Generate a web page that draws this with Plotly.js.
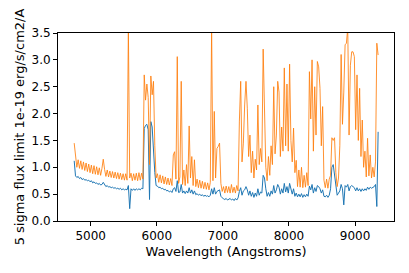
<!DOCTYPE html>
<html>
<head>
<meta charset="utf-8">
<script src="https://cdn.plot.ly/plotly-3.0.1.min.js"></script>
<style>html,body{margin:0;padding:0;background:#fff;}#chart{width:409px;height:273px;}</style>
</head>
<body>
<div id="chart"></div>
<script>
const wavelength = [
4750,4770,4790,4810,4830,4850,4870,4890,4910,4930,
4950,4970,4990,5010,5030,5050,5070,5090,5110,5130,
5150,5170,5190,5210,5230,5250,5270,5290,5310,5330,
5350,5370,5390,5410,5430,5450,5470,5490,5510,5530,
5550,5570,5590,5610,5630,5650,5670,5690,5710,5730,
5750,5770,5790,5810,5830,5850,5870,5890,5910,5930,
5950,5970,5990,6010,6030,6050,6070,6090,6110,6130,
6150,6170,6190,6210,6230,6250,6270,6290,6310,6330,
6350,6370,6390,6410,6430,6450,6470,6490,6510,6530,
6550,6570,6590,6610,6630,6650,6670,6690,6710,6730,
6750,6770,6790,6810,6830,6850,6870,6890,6910,6930,
6950,6970,6990,7010,7030,7050,7070,7090,7110,7130,
7150,7170,7190,7210,7230,7250,7270,7290,7310,7330,
7350,7370,7390,7410,7430,7450,7470,7490,7510,7530,
7550,7570,7590,7610,7630,7650,7670,7690,7710,7730,
7750,7770,7790,7810,7830,7850,7870,7890,7910,7930,
7950,7970,7990,8010,8030,8050,8070,8090,8110,8130,
8150,8170,8190,8210,8230,8250,8270,8290,8310,8330,
8350,8370,8390,8410,8430,8450,8470,8490,8510,8530,
8550,8570,8590,8610,8630,8650,8670,8690,8710,8730,
8750,8770,8790,8810,8830,8850,8870,8890,8910,8930,
8950,8970,8990,9010,9030,9050,9070,9090,9110,9130,
9150,9170,9190,9210,9230,9250,9270,9290,9310,9330,
9350];

const limitBlue = [
1.12,0.84,0.81,0.83,0.79,0.81,0.77,0.79,0.76,0.77,
0.75,0.76,0.73,0.75,0.71,0.73,0.70,0.71,0.68,0.70,
0.67,0.68,0.72,0.67,0.64,0.66,0.63,0.64,0.62,0.63,
0.61,0.62,0.60,0.61,0.59,0.61,0.58,0.60,0.58,0.59,
0.58,0.66,0.23,0.60,0.57,0.60,0.57,0.60,0.58,0.60,
0.58,0.61,0.60,1.72,1.78,1.80,1.70,0.40,1.85,1.75,
1.25,0.90,0.66,0.65,0.62,0.63,0.60,0.61,0.58,0.59,
0.56,0.57,0.54,0.56,0.53,0.60,0.62,0.55,0.75,0.53,
0.54,0.68,0.52,0.56,0.51,0.56,0.52,0.62,0.52,0.58,
0.50,0.56,0.49,0.51,0.48,0.50,0.47,0.49,0.46,0.48,
0.46,0.47,0.45,0.48,0.60,0.50,0.62,0.50,0.55,0.56,
0.58,0.46,0.43,0.41,0.40,0.42,0.39,0.41,0.42,0.39,
0.41,0.38,0.42,0.39,0.43,0.55,0.62,0.48,0.56,0.58,
0.64,0.58,0.48,0.56,0.46,0.53,0.44,0.52,0.46,0.60,
0.48,0.54,0.52,0.85,0.80,0.60,0.46,0.53,0.46,0.56,
0.50,0.66,0.52,0.58,0.68,0.63,0.50,0.60,0.52,0.70,
0.54,0.64,0.52,0.70,0.56,0.50,0.60,0.46,0.52,0.45,
0.50,0.45,0.51,0.44,0.49,0.45,0.50,0.46,0.65,0.58,
0.68,0.52,0.62,0.55,0.66,0.64,0.60,0.52,0.58,0.46,
0.45,0.48,0.44,0.48,0.60,1.00,1.05,0.85,0.58,0.48,
0.52,0.56,0.68,0.60,0.30,0.66,0.63,0.68,0.56,0.64,
0.66,0.64,0.62,0.56,0.62,0.56,0.60,0.55,0.60,0.56,
0.60,0.57,0.63,0.59,0.63,0.61,0.63,0.64,0.68,0.27,
1.66];

const limitOrange = [
1.45,1.16,1.00,1.14,0.98,1.12,0.96,1.10,0.94,1.08,
0.92,1.06,0.90,1.04,0.88,1.03,0.87,1.01,0.86,0.99,
0.85,0.98,1.15,0.96,0.83,0.95,0.82,0.93,0.81,0.92,
0.80,0.91,0.79,0.90,0.78,0.89,0.77,0.88,0.76,0.88,
0.76,3.60,0.80,0.89,0.75,0.88,0.76,0.89,0.75,0.90,
0.76,0.89,0.78,2.72,2.25,2.55,2.30,1.05,2.70,2.35,
2.60,1.40,0.80,0.88,0.72,0.86,0.71,0.84,0.69,0.82,
0.68,0.80,0.67,0.79,0.66,1.23,1.29,0.78,3.06,0.70,
0.82,2.60,0.68,0.95,0.66,1.05,0.70,1.77,0.80,1.20,
0.66,1.14,0.64,0.78,0.62,0.76,0.61,0.74,0.60,0.72,
0.59,0.71,0.58,0.72,3.60,0.75,2.04,0.80,1.35,1.39,
1.45,0.70,0.55,0.64,0.52,0.65,0.53,0.64,0.52,0.68,
0.53,0.63,0.52,0.66,0.56,1.86,2.60,1.10,1.45,2.16,
2.60,2.10,1.20,1.60,0.90,1.30,0.80,1.15,0.95,2.16,
1.05,1.35,1.10,3.20,2.10,1.00,0.75,1.20,0.85,1.40,
1.05,2.50,1.25,1.60,2.60,2.40,1.20,1.75,1.30,2.85,
1.40,2.55,1.30,2.92,1.50,1.10,1.73,0.90,1.13,0.64,
0.95,0.63,1.00,0.62,0.85,0.63,0.90,0.66,2.78,1.90,
3.00,1.30,2.50,1.60,2.97,2.87,2.47,1.40,2.13,0.76,
0.62,0.78,0.61,0.78,0.85,1.55,1.50,1.55,0.90,0.64,
0.80,1.40,3.10,1.80,2.40,3.28,3.31,3.60,1.60,2.90,
3.15,3.15,3.06,1.70,2.72,1.50,2.47,1.20,1.88,1.00,
1.30,0.82,1.54,0.84,1.23,0.80,1.00,0.82,1.10,3.31,
3.09];

const xTicks = [5000, 6000, 7000, 8000, 9000];
const yTicks = [0, 0.5, 1, 1.5, 2, 2.5, 3, 3.5];

const traces = [
  {x: wavelength, y: limitBlue, type: 'scatter', mode: 'lines',
   line: {color: '#1f77b4', width: 1}, hoverinfo: 'skip'},
  {x: wavelength, y: limitOrange, type: 'scatter', mode: 'lines',
   line: {color: '#ff7f0e', width: 1}, opacity: 0.85, hoverinfo: 'skip'}
];

const tickFont = {family: 'DejaVu Sans, sans-serif', size: 12, color: '#000'};
const titleFont = {family: 'DejaVu Sans, sans-serif', size: 13, color: '#000'};
const layout = {
  width: 409, height: 273,
  margin: {l: 58, r: 15, t: 33, b: 52},
  paper_bgcolor: '#fff', plot_bgcolor: '#fff',
  showlegend: false,
  font: tickFont,
  xaxis: {
    range: [4505, 9590], tickvals: xTicks, ticktext: xTicks.map(String),
    showgrid: false, zeroline: false, showline: true, mirror: true,
    linecolor: '#000', linewidth: 1, ticks: 'outside', ticklen: 4, tickwidth: 1, tickcolor: '#000',
    tickfont: tickFont,
    title: {text: 'Wavelength (Angstroms)', font: titleFont, standoff: 4}
  },
  yaxis: {
    range: [0, 3.5], tickvals: yTicks, ticktext: yTicks.map(v => v.toFixed(1)),
    showgrid: false, zeroline: false, showline: true, mirror: true,
    linecolor: '#000', linewidth: 1, ticks: 'outside', ticklen: 4, tickwidth: 1, tickcolor: '#000',
    tickfont: tickFont,
    title: {text: '5 sigma flux limit 1e-19 erg/s/cm2/A', font: titleFont, standoff: 3}
  }
};

Plotly.newPlot('chart', traces, layout, {displayModeBar: false, staticPlot: true});
</script>
</body>
</html>
